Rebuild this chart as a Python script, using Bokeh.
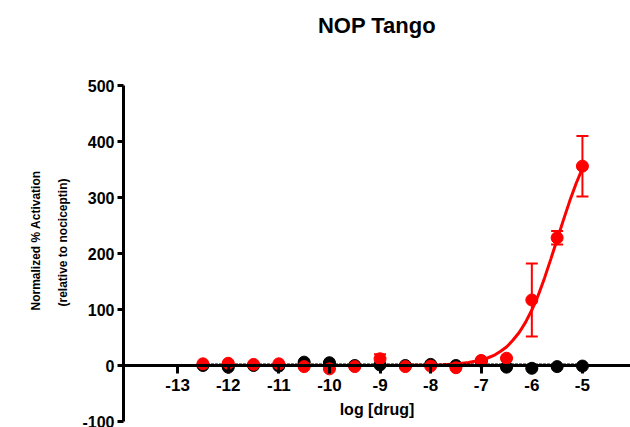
from bokeh.plotting import figure
from bokeh.models import FixedTicker, Range1d, ColumnDataSource, Whisker, Title, LinearAxis
from bokeh.embed import file_html
from bokeh.resources import INLINE

# ---- data ----
log_drug = [-12.5, -12, -11.5, -11, -10.5, -10, -9.5, -9, -8.5, -8, -7.5, -7, -6.5, -6, -5.5, -5]
red_mean = [3, 4, 2, 3, -2, -6, -2, 12, -2, -1, -4, 9, 13, 117, 228, 356]
red_err = [0, 0, 0, 0, 0, 0, 0, 8, 0, 0, 0, 2, 0, 65, 12, 54]
black_mean = [0, -3, 0, -1, 6, 5, 0, 1, 0, 2, 0, 8, -3, -5, -2, -1]
black_err = [0, 1, 0, 0, 1, 1, 0, 0, 0, 0, 0, 1, 0, 1, 0, 0]

fit_x = [-12.5, -12.25, -12, -11.75, -11.5, -11.25, -11, -10.75, -10.5, -10.25, -10, -9.75,
         -9.5, -9.25, -9, -8.75, -8.5, -8.25, -8, -7.75, -7.5, -7.25, -7, -6.875, -6.75,
         -6.625, -6.5, -6.375, -6.25, -6.125, -6, -5.875, -5.75, -5.625, -5.5, -5.375,
         -5.25, -5.125, -5]
red_fit = [0, 0, 0, 0, 0, 0, 0, 0, 0, 0, 0, 0, 0, 0, 0.1, 0.2, 0.3, 0.5, 0.8, 1.5, 2.8,
           5.3, 9.8, 13.4, 18, 25, 33, 45, 59, 77, 99, 125, 156, 190, 225, 260, 294, 325, 352]
black_fit = [1] * len(fit_x)

x_ticks = [-13, -12, -11, -10, -9, -8, -7, -6, -5, -4]
x_tick_labels = ["-13", "-12", "-11", "-10", "-9", "-8", "-7", "-6", "-5", "-4"]
y_ticks = [-100, 0, 100, 200, 300, 400, 500]
y_tick_labels = ["-100", "0", "100", "200", "300", "400", "500"]

FONT = "Liberation Sans"

p = figure(width=630, height=427, output_backend="svg", toolbar_location=None,
           x_range=Range1d(-14.07, -4.05), y_range=Range1d(-100, 500),
           min_border_left=123, min_border_right=0, min_border_top=85, min_border_bottom=6)
p.grid.visible = False
p.outline_line_color = None
p.background_fill_color = "white"
p.title.visible = False

# keep handles on the original axes before adding anything else
xa = p.below[0]
ya = p.left[0]

# x axis at y = 0
xa.fixed_location = 0
xa.ticker = FixedTicker(ticks=x_ticks)
xa.major_label_overrides = {t: s for t, s in zip(x_ticks, x_tick_labels)}
xa.axis_line_width = 3
xa.major_tick_line_width = 3
xa.major_tick_out = 8
xa.major_tick_in = 0
xa.minor_tick_line_color = None
xa.major_label_text_font = FONT
xa.major_label_text_font_style = "bold"
xa.major_label_text_font_size = "17px"
xa.major_label_text_color = "black"
xa.major_label_standoff = 5
xa.axis_label = "log [drug]"
xa.axis_label_text_font = FONT
xa.axis_label_text_font_style = "bold"
xa.axis_label_text_font_size = "16px"
xa.axis_label_text_color = "black"
xa.axis_label_standoff = 7

ya.ticker = FixedTicker(ticks=y_ticks)
ya.major_label_overrides = {t: s for t, s in zip(y_ticks, y_tick_labels)}
ya.axis_line_width = 3
ya.major_tick_line_width = 3
ya.major_tick_out = 6
ya.major_tick_in = 0
ya.minor_tick_line_color = None
ya.major_label_text_font = FONT
ya.major_label_text_font_style = "bold"
ya.major_label_text_font_size = "16px"
ya.major_label_text_color = "black"
ya.major_label_standoff = 3

# chart title drawn as the label of a bare axis above the frame
top = LinearAxis(ticker=FixedTicker(ticks=[]), axis_label="NOP Tango",
                 axis_line_color=None, major_tick_line_color=None,
                 minor_tick_line_color=None, major_tick_out=0, major_tick_in=0,
                 major_label_standoff=0, axis_label_standoff=48,
                 axis_label_text_font=FONT, axis_label_text_font_style="bold",
                 axis_label_text_font_size="22px", axis_label_text_color="black")
p.add_layout(top, "above")

# y label as two vertical titles in the left panel
for txt, so, off in [("(relative to nociceptin)", 19, 93), ("Normalized % Activation", 3, 85)]:
    t = Title(text=txt, align="right", offset=off, standoff=so,
              text_font=FONT, text_font_style="bold", text_font_size="12px",
              text_color="black")
    p.add_layout(t, "left")

src_r = ColumnDataSource(dict(x=log_drug, y=red_mean,
                              lo=[m - e for m, e in zip(red_mean, red_err)],
                              hi=[m + e for m, e in zip(red_mean, red_err)]))
src_b = ColumnDataSource(dict(x=log_drug, y=black_mean,
                              lo=[m - e for m, e in zip(black_mean, black_err)],
                              hi=[m + e for m, e in zip(black_mean, black_err)]))

wb = Whisker(source=src_b, base="x", lower="lo", upper="hi", line_color="black", line_width=2)
wb.upper_head.size = 12
wb.lower_head.size = 12
wb.upper_head.line_width = 2
wb.lower_head.line_width = 2
p.add_layout(wb)
p.scatter("x", "y", source=src_b, size=12, color="black")

p.line(fit_x, red_fit, line_color="red", line_width=3)
p.line(fit_x, black_fit, line_color="black", line_width=3, line_dash="3 1")

wr = Whisker(source=src_r, base="x", lower="lo", upper="hi", line_color="red", line_width=2)
wr.upper_head.size = 12
wr.lower_head.size = 12
wr.upper_head.line_color = "red"
wr.lower_head.line_color = "red"
wr.upper_head.line_width = 2
wr.lower_head.line_width = 2
p.add_layout(wr)
p.scatter("x", "y", source=src_r, size=12, color="red")

open("out.html", "w").write(file_html(p, INLINE))
